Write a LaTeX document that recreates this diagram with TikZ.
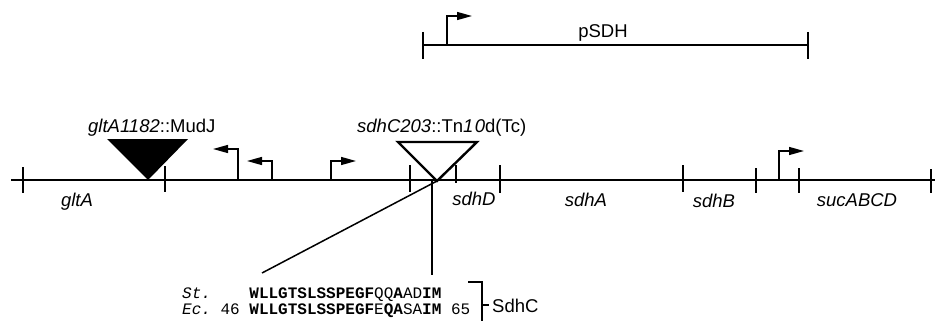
\documentclass[tikz,border=0pt]{standalone}
\usepackage{fontspec}
\setmainfont{Liberation Sans}
\newfontfamily\seqfont{Liberation Mono}
\usetikzlibrary{arrows.meta}
\begin{document}
\begin{tikzpicture}[x=1pt,y=-1pt,
  lbl/.style={font=\fontsize{18.5}{22}\selectfont, inner sep=0pt, anchor=base},
  gene/.style={font=\fontsize{18.5}{22}\selectfont\itshape, inner sep=0pt, anchor=base},
  seq/.style={font=\fontsize{16}{18}\seqfont, inner sep=0pt, anchor=base west},
  mainline/.style={line width=2pt},
  tickmark/.style={line width=2pt},
  prom/.style={line width=1.4pt, -{Triangle[length=15pt,width=8pt]}},
  thin/.style={line width=1.5pt},
]
\useasboundingbox (0,0) rectangle (935,321);

% ---- pSDH clone ----
\coordinate (pL) at (423,45);
\coordinate (pR) at (808,45);
\draw[mainline] (pL) -- (pR);
\draw[tickmark] (423,32) -- (423,59);
\draw[tickmark] (808,32) -- (808,59);
\coordinate (pp) at (447,45);
\coordinate (pptip) at (472,16);
\draw[prom] (pp) |- (pptip);
\node[lbl] (psdh) at (603,38) {pSDH};

% ---- chromosome ----
\coordinate (cL) at (11,180);
\coordinate (cR) at (935,180);
\draw[mainline] (cL) -- (cR);
\foreach \x/\a/\b in {23/167/193, 165/166/192, 410/165/192, 456/165/183, 500/165/193, 683/165/192, 756/168/193, 799/168/193, 931/169/193}
  \draw[tickmark] (\x,\a) -- (\x,\b);

% promoters
\coordinate (pa) at (238,180); \coordinate (patip) at (213,149);
\coordinate (pb) at (272,180); \coordinate (pbtip) at (247,161);
\coordinate (pc) at (331,180); \coordinate (pctip) at (356,161);
\coordinate (pd) at (779,180); \coordinate (pdtip) at (804,151);
\draw[prom] (pa) |- (patip);
\draw[prom] (pb) |- (pbtip);
\draw[prom] (pc) |- (pctip);
\draw[prom] (pd) |- (pdtip);

% insertions
\fill (107,139) -- (188,139) -- (148,180) -- cycle;
\draw[line width=2.4pt, line join=miter] (398,142) -- (477,142) -- (437,181) -- cycle;
\node[lbl, anchor=base west] (mudj) at (88,132) {\textit{gltA1182}::MudJ};
\node[lbl, anchor=base west] (tn) at (357,132) {\textit{sdhC203}::Tn\textit{1\kern1.5pt0}d(Tc)};

% gene labels
\node[gene] (gltA) at (77,206) {gltA};
\node[gene] (sdhD) at (474,205) {sdhD};
\node[gene] (sdhA) at (586,206) {sdhA};
\node[gene] (sdhB) at (714,207) {sdhB};
\node[gene] (suc) at (857,206) {sucABCD};

% zoom lines to sequence
\coordinate (apex) at (437,181);
\coordinate (apexv) at (432,181);
\coordinate (diagend) at (262,273);
\coordinate (vertend) at (432,275);
\draw[thin] (apex) -- (diagend);
\draw[thin] (apexv) -- (vertend);

% sequences
\node[seq] (st) at (182,298) {\textit{St.}~~~~\textbf{WLLGTSLSSPEGF}QQ\textbf{A}AD\textbf{IM}};
\node[seq] (ec) at (182,314) {\textit{Ec.}~46~\textbf{WLLGTSLSSPEGF}E\textbf{QA}SA\textbf{IM}~65};

% bracket
\coordinate (bA) at (468,282);
\coordinate (bB) at (482,282);
\coordinate (bC) at (482,321);
\coordinate (bM) at (482,305);
\coordinate (bT) at (489,305);
\draw[line width=1.2pt] (bA) -- (bB) -- (bC);
\draw[line width=1.2pt] (bM) -- (bT);
\node[lbl, anchor=base west] (sdhc) at (492,312) {SdhC};
\end{tikzpicture}
\end{document}
